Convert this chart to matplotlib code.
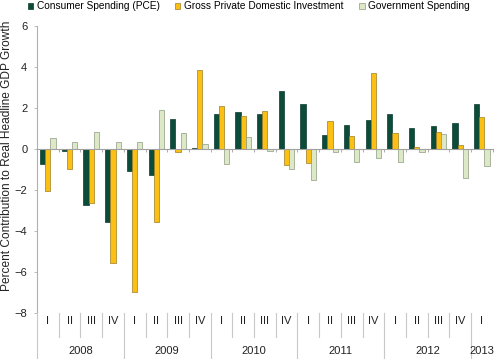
import matplotlib
matplotlib.use('Agg')
import matplotlib.pyplot as plt
import matplotlib.transforms as mtransforms
from matplotlib.lines import Line2D
import numpy as np

plt.rcParams['font.family'] = ['Liberation Sans', 'DejaVu Sans']

# Quarterly contributions to real GDP growth (percentage points)
quarters = ['I', 'II', 'III', 'IV'] * 5 + ['I']
years = ['2008', '2009', '2010', '2011', '2012', '2013']
year_sizes = [4, 4, 4, 4, 4, 1]

pce = [-0.73, -0.12, -2.72, -3.54, -1.09, -1.25, 1.47, 0.03,
       1.70, 1.80, 1.71, 2.81, 2.18, 0.68, 1.15, 1.42,
       1.70, 1.02, 1.10, 1.24, 2.21]
investment = [-2.04, -0.97, -2.66, -5.58, -6.99, -3.54, -0.16, 3.83,
              2.10, 1.62, 1.84, -0.78, -0.68, 1.37, 0.65, 3.69,
              0.76, 0.10, 0.81, 0.17, 1.53]
government = [0.55, 0.32, 0.82, 0.32, 0.34, 1.91, 0.76, 0.24,
              -0.73, 0.58, -0.10, -0.97, -1.52, -0.16, -0.63, -0.46,
              -0.63, -0.16, 0.73, -1.44, -0.83]

fig = plt.figure(figsize=(5.0, 3.59), dpi=100)
ax = fig.add_axes([0.074, 0.128, 0.9114, 0.8003])

x = np.arange(len(quarters))
w = 0.24
ax.bar(x - w, pce, w, color='#0c4a3a', edgecolor='#0a3a2c', linewidth=0.5,
       label='Consumer Spending (PCE)')
ax.bar(x, investment, w, color='#fbc013', edgecolor='#9c7c28', linewidth=0.5,
       label='Gross Private Domestic Investment')
ax.bar(x + w, government, w, color='#dce8c6', edgecolor='#8e9a82', linewidth=0.5,
       label='Government Spending')

ax.set_xlim(-0.5, len(quarters) - 0.5)
ax.set_ylim(-8, 6)
ax.set_yticks(range(-8, 7, 2))
ax.tick_params(axis='y', length=2, width=0.6, color='#b0b0b0', pad=5,
               labelsize=8, labelcolor='#222222')

# zero line acts as the x axis
ax.spines['top'].set_visible(False)
ax.spines['right'].set_visible(False)
ax.spines['left'].set_color('#b0b0b0')
ax.spines['left'].set_linewidth(0.8)
ax.spines['bottom'].set_position(('data', 0))
ax.spines['bottom'].set_color('#a0a0a0')
ax.spines['bottom'].set_linewidth(0.8)
ax.set_xticks(np.arange(len(quarters) + 1) - 0.5)
ax.set_xticklabels([])
ax.tick_params(axis='x', length=2, width=0.6, color='#a0a0a0')

fig.text(0.014, 1 - 156 / 359, 'Percent Contribution to Real Headline GDP Growth',
         rotation=90, ha='center', va='center', fontsize=8.6, color='#222222')

# two-level category axis below the plot
trans = mtransforms.blended_transform_factory(ax.transData, fig.transFigure)
y_top = 0.128
y_q = 1 - 337 / 359
for i, q in enumerate(quarters):
    fig.text(i, 1 - 321 / 359, q, transform=trans, ha='center', va='center',
             fontsize=8, color='#222222')
start = 0
for yr, n in zip(years, year_sizes):
    fig.text(start + (n - 1) / 2, 1 - 351 / 359, yr, transform=trans,
             ha='center', va='center', fontsize=8, color='#222222')
    start += n
year_bounds = np.cumsum([0] + year_sizes) - 0.5
for b in np.arange(len(quarters)) - 0.5:
    y_end = 0.0 if b in year_bounds else y_q
    fig.add_artist(Line2D([b, b], [y_top, y_end], transform=trans,
                          color='#c8c8c8', linewidth=0.8))

fig.legend(loc='upper left', bbox_to_anchor=(0.055, 0.996), ncol=3, frameon=False,
           fontsize=7.3, handlelength=0.55, handleheight=0.55, handletextpad=0.37,
           columnspacing=1.5, borderaxespad=0, borderpad=0)

fig.savefig('out.png', dpi=100)
